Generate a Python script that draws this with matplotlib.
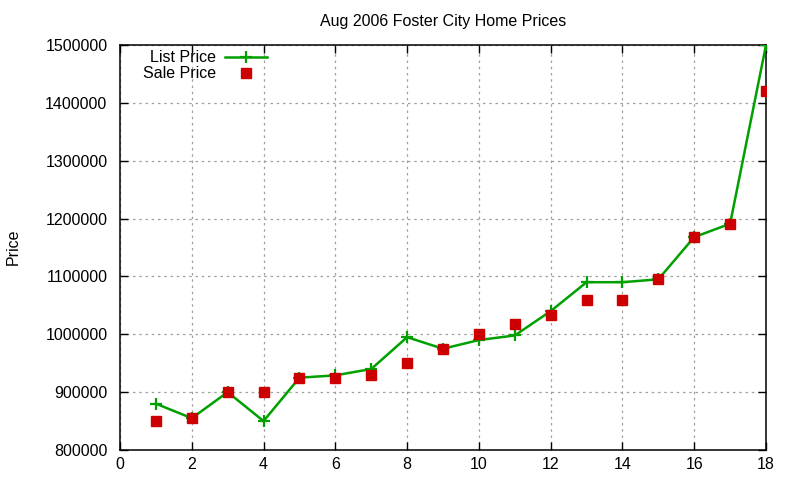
import matplotlib
matplotlib.use("Agg")
import matplotlib.pyplot as plt

plt.rcParams['font.family'] = ['Liberation Sans', 'DejaVu Sans']

house = list(range(1, 19))
list_price = [880000, 855000, 900000, 850000, 925000, 929000, 940000, 995000, 975000,
              990000, 998000, 1040000, 1090000, 1090000, 1095000, 1168000, 1191000, 1500000]
sale_price = [850000, 855000, 900000, 900000, 925000, 925000, 930000, 950000, 975000,
              1000000, 1017000, 1033000, 1060000, 1060000, 1095000, 1168000, 1190000, 1420000]
xticks = [0, 2, 4, 6, 8, 10, 12, 14, 16, 18]
yticks = [800000, 900000, 1000000, 1100000, 1200000, 1300000, 1400000, 1500000]

fs = 11.5
fig = plt.figure(figsize=(8, 4.8), dpi=100)
ax = fig.add_axes([0.15, 0.0625, 0.8075, 0.84375])

ax.plot(house, list_price, color='#00a000', lw=1.8, marker='+', ms=9, mew=1.6,
        label='List Price', zorder=3)
ax.plot(house, sale_price, ls='none', color='#cc0000', marker='s', ms=7,
        label='Sale Price', zorder=4)

ax.set_xlim(0, 18)
ax.set_ylim(800000, 1500000)
ax.set_xticks(xticks)
ax.set_yticks(yticks)
ax.set_yticklabels([str(v) for v in yticks])
ax.tick_params(direction='in', length=6, width=1, labelsize=fs, top=True, right=True)
ax.tick_params(axis='y', pad=9)
ax.tick_params(axis='x', pad=5)
ax.grid(True, color='#a0a0a0', ls=(0, (2, 3)), lw=0.9)
for s in ax.spines.values():
    s.set_linewidth(1.1)

ax.set_title('Aug 2006 Foster City Home Prices', fontsize=fs, pad=14)
fig.text(0.016, 0.485, 'Price', rotation=90, fontsize=fs, ha='center', va='center')

leg = ax.legend(loc='upper right', bbox_to_anchor=(0.2445, 1.015), frameon=False,
                markerfirst=False, fontsize=fs, handlelength=2.6,
                labelspacing=0.08, borderpad=0.2, handletextpad=0.6)
for t in leg.get_texts():
    t.set_ha('right')
leg._legend_box.align = 'right'

fig.savefig('out.png', dpi=100)
